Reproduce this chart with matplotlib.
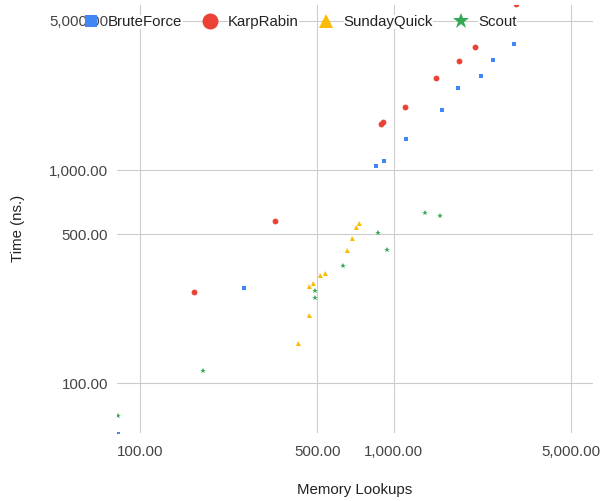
import matplotlib
matplotlib.use("Agg")
import matplotlib.pyplot as plt
from matplotlib.lines import Line2D
from matplotlib.ticker import FixedLocator, FuncFormatter, NullLocator

plt.rcParams["font.family"] = ["Liberation Sans", "DejaVu Sans"]

# memory lookups vs time (ns.) per algorithm
brute_lookups = [82, 257, 849, 916, 1115, 1550, 1788, 2215, 2462, 2972]
brute_time = [58, 280, 1047, 1102, 1402, 1905, 2415, 2768, 3289, 3896]

karp_lookups = [164, 341, 894, 907, 1111, 1468, 1809, 2086, 3034]
karp_time = [268, 575, 1648, 1679, 1974, 2709, 3253, 3761, 6000]

sunday_lookups = [418, 462, 465, 482, 512, 536, 657, 687, 708, 730]
sunday_time = [155, 209, 285, 294, 322, 330, 423, 480, 542, 564]

scout_lookups = [82, 177, 488, 490, 630, 867, 941, 1332, 1522]
scout_time = [70.5, 114, 252, 272, 356, 507, 420, 631, 607]

series = [
    ("BruteForce", brute_lookups, brute_time, "#4285F4", "s", 3.0, 8.3),
    ("KarpRabin", karp_lookups, karp_time, "#EA4335", "o", 4.2, 11.5),
    ("SundayQuick", sunday_lookups, sunday_time, "#FBBC04", "^", 3.6, 10.0),
    ("Scout", scout_lookups, scout_time, "#34A853", "*", 4.4, 12.0),
]

ticks = [100, 500, 1000, 5000]

fig = plt.figure(figsize=(6.0, 5.01), dpi=100)
ax = fig.add_axes([117 / 600, 1 - 433 / 501, 476 / 600, 428 / 501])

handles = []
for name, xs, ys, color, marker, ms, legend_ms in series:
    ax.plot(xs, ys, linestyle="none", marker=marker, markersize=ms,
            color=color, markeredgewidth=0, zorder=3)
    handles.append(Line2D([], [], linestyle="none", marker=marker,
                          markersize=legend_ms, color=color,
                          markeredgewidth=0, label=name))

ax.set_xscale("log")
ax.set_yscale("log")
ax.set_xlim(81.2, 6104)
ax.set_ylim(58.5, 5937)

fmt = FuncFormatter(lambda v, pos: f"{v:,.2f}")
for axis in (ax.xaxis, ax.yaxis):
    axis.set_major_locator(FixedLocator(ticks))
    axis.set_minor_locator(NullLocator())
    axis.set_major_formatter(fmt)

ax.grid(True, color="#cccccc", linewidth=0.8)
ax.set_axisbelow(True)
for sp in ax.spines.values():
    sp.set_visible(False)

ax.tick_params(axis="both", length=0, labelsize=10.8, labelcolor="#444444")
ax.tick_params(axis="x", pad=9)
ax.tick_params(axis="y", pad=6.5)

fig.text(355 / 600, 1 - 490 / 501, "Memory Lookups", ha="center", va="center",
         fontsize=10.8, color="#222222")
fig.text(18 / 600, 1 - 228 / 501, "Time (ns.)", ha="center", va="center",
         rotation=90, fontsize=10.8, color="#222222")

leg = ax.legend(handles=handles, loc="center left", ncol=4, frameon=False,
                bbox_to_anchor=(83 / 600, 1 - 22 / 501),
                bbox_transform=fig.transFigure, fontsize=10.8,
                handlelength=1.0, handletextpad=0.68, columnspacing=1.33,
                borderaxespad=0, borderpad=0)
# white backing behind legend labels so the top gridline stops at the text
for t in leg.get_texts():
    t.set_color("#222222")
    t.set_bbox(dict(facecolor="white", edgecolor="none", pad=0))

fig.savefig("out.png", dpi=100)
